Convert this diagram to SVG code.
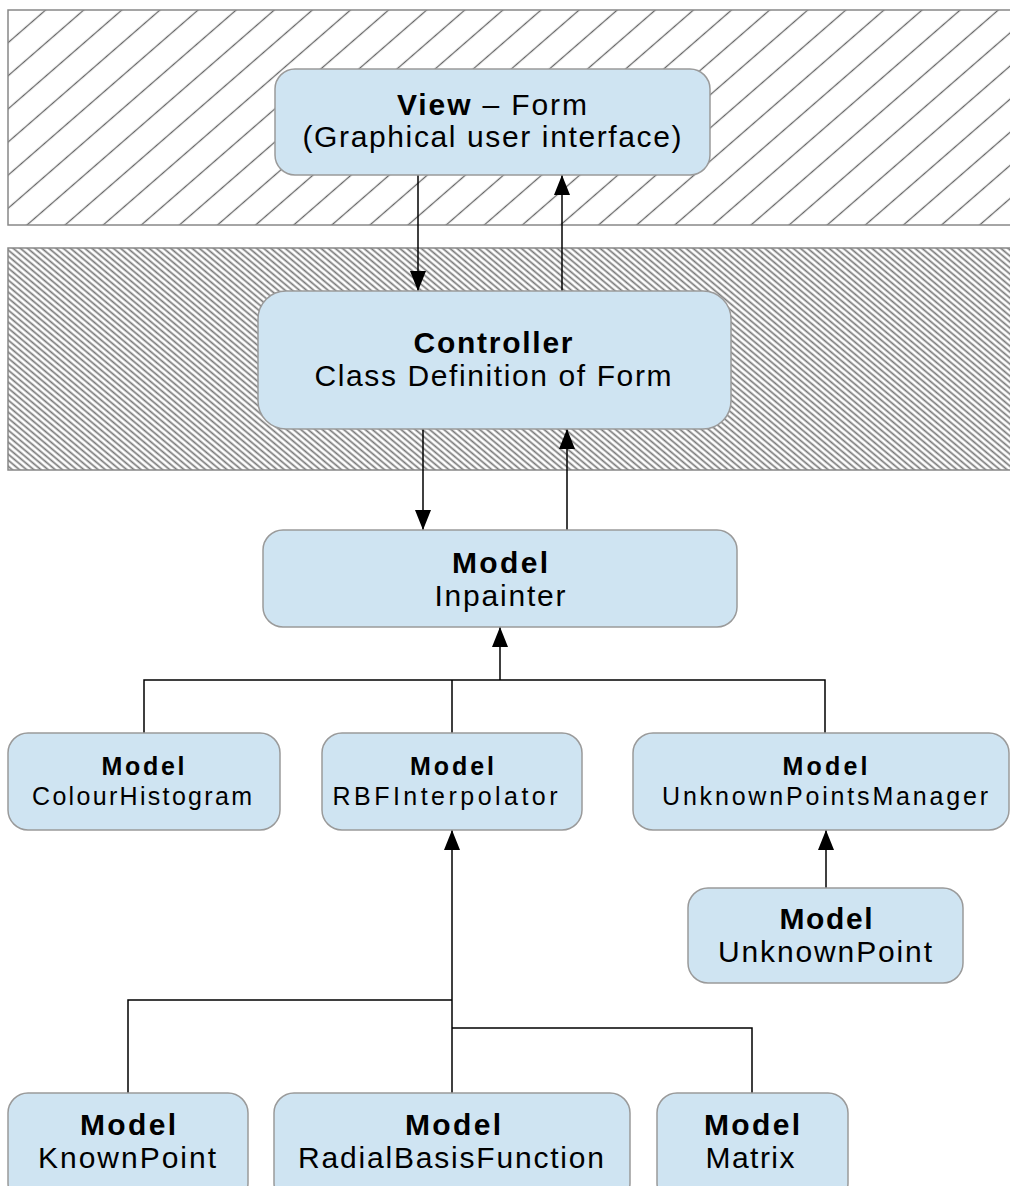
<svg xmlns="http://www.w3.org/2000/svg" width="1010" height="1186" viewBox="0 0 1010 1186">
<defs>
<style>
.node{fill:#cfe4f2;stroke:#9a9a9a;stroke-width:1.5}
.t{font-family:"Liberation Sans",Arial,sans-serif;fill:#000;text-anchor:middle}
.big{font-size:30px}
.sm{font-size:25px}
.b{font-weight:bold}
.c{fill:none;stroke:#000;stroke-width:1.5}
.band{stroke:#888;stroke-width:1.5}
</style>
<pattern id="h1" patternUnits="userSpaceOnUse" width="25" height="25" patternTransform="rotate(49)">
<line x1="12.5" y1="0" x2="12.5" y2="25" stroke="#666" stroke-width="1.3"/>
</pattern>
<pattern id="h2" patternUnits="userSpaceOnUse" width="4.6" height="10" patternTransform="rotate(-50)">
<line x1="2.3" y1="0" x2="2.3" y2="10" stroke="#777" stroke-width="1.7"/>
</pattern>
<marker id="ar" viewBox="0 0 20 16" refX="20" refY="8" markerWidth="20" markerHeight="16" markerUnits="userSpaceOnUse" orient="auto">
<path d="M0,0 L20,8 L0,16 z" fill="#000"/>
</marker>
</defs>
<rect width="1010" height="1186" fill="#fff"/>
<rect class="band" x="8" y="10" width="1015" height="215" fill="url(#h1)"/>
<rect class="band" x="8" y="248" width="1015" height="222" fill="url(#h2)"/>

<g id="connectors">
<path class="c" d="M418 175 V291" marker-end="url(#ar)"/>
<path class="c" d="M562 291 V175" marker-end="url(#ar)"/>
<path class="c" d="M423 429 V530" marker-end="url(#ar)"/>
<path class="c" d="M567 530 V429" marker-end="url(#ar)"/>
<path class="c" d="M144 733 V680 H825 V733 M452 733 V680"/>
<path class="c" d="M500 680 V627" marker-end="url(#ar)"/>
<path class="c" d="M826 888 V830" marker-end="url(#ar)"/>
<path class="c" d="M128 1093 V1000 H452 M452 1028 H752 V1093"/>
<path class="c" d="M452 1093 V830" marker-end="url(#ar)"/>
</g>

<g id="view">
<rect class="node" x="275" y="69" width="435" height="106" rx="20"/>
<text class="t big" x="492" y="115" textLength="190" lengthAdjust="spacing"><tspan class="b">View</tspan> – Form</text>
<text class="t big" x="492" y="147" textLength="379" lengthAdjust="spacing">(Graphical user interface)</text>
</g>
<g id="controller">
<rect class="node" x="258" y="291" width="473" height="138" rx="28"/>
<text class="t big b" x="493" y="353" textLength="159" lengthAdjust="spacing">Controller</text>
<text class="t big" x="493" y="386" textLength="357" lengthAdjust="spacing">Class Definition of Form</text>
</g>
<g id="inpainter">
<rect class="node" x="263" y="530" width="474" height="97" rx="20"/>
<text class="t big b" x="500" y="573" textLength="96" lengthAdjust="spacing">Model</text>
<text class="t big" x="500" y="606" textLength="131" lengthAdjust="spacing">Inpainter</text>
</g>
<g id="colourhistogram">
<rect class="node" x="8" y="733" width="272" height="97" rx="20"/>
<text class="t sm b" x="143" y="775" textLength="83" lengthAdjust="spacing">Model</text>
<text class="t sm" x="142" y="805" textLength="220" lengthAdjust="spacing">ColourHistogram</text>
</g>
<g id="rbfinterpolator">
<rect class="node" x="322" y="733" width="260" height="97" rx="20"/>
<text class="t sm b" x="452" y="775" textLength="84" lengthAdjust="spacing">Model</text>
<text class="t sm" x="445" y="805" textLength="225" lengthAdjust="spacing">RBFInterpolator</text>
</g>
<g id="unknownpointsmanager">
<rect class="node" x="633" y="733" width="376" height="97" rx="20"/>
<text class="t sm b" x="825" y="775" textLength="85" lengthAdjust="spacing">Model</text>
<text class="t sm" x="825" y="805" textLength="326" lengthAdjust="spacing">UnknownPointsManager</text>
</g>
<g id="unknownpoint">
<rect class="node" x="688" y="888" width="275" height="95" rx="20"/>
<text class="t big b" x="826" y="929" textLength="93" lengthAdjust="spacing">Model</text>
<text class="t big" x="825" y="962" textLength="214" lengthAdjust="spacing">UnknownPoint</text>
</g>
<g id="knownpoint">
<rect class="node" x="8" y="1093" width="240" height="110" rx="20"/>
<text class="t big b" x="128" y="1135" textLength="96" lengthAdjust="spacing">Model</text>
<text class="t big" x="127" y="1168" textLength="178" lengthAdjust="spacing">KnownPoint</text>
</g>
<g id="radialbasisfunction">
<rect class="node" x="274" y="1093" width="356" height="110" rx="20"/>
<text class="t big b" x="453" y="1135" textLength="96" lengthAdjust="spacing">Model</text>
<text class="t big" x="451" y="1168" textLength="306" lengthAdjust="spacing">RadialBasisFunction</text>
</g>
<g id="matrix">
<rect class="node" x="657" y="1093" width="191" height="110" rx="20"/>
<text class="t big b" x="752" y="1135" textLength="96" lengthAdjust="spacing">Model</text>
<text class="t big" x="750" y="1168" textLength="89" lengthAdjust="spacing">Matrix</text>
</g>
</svg>
